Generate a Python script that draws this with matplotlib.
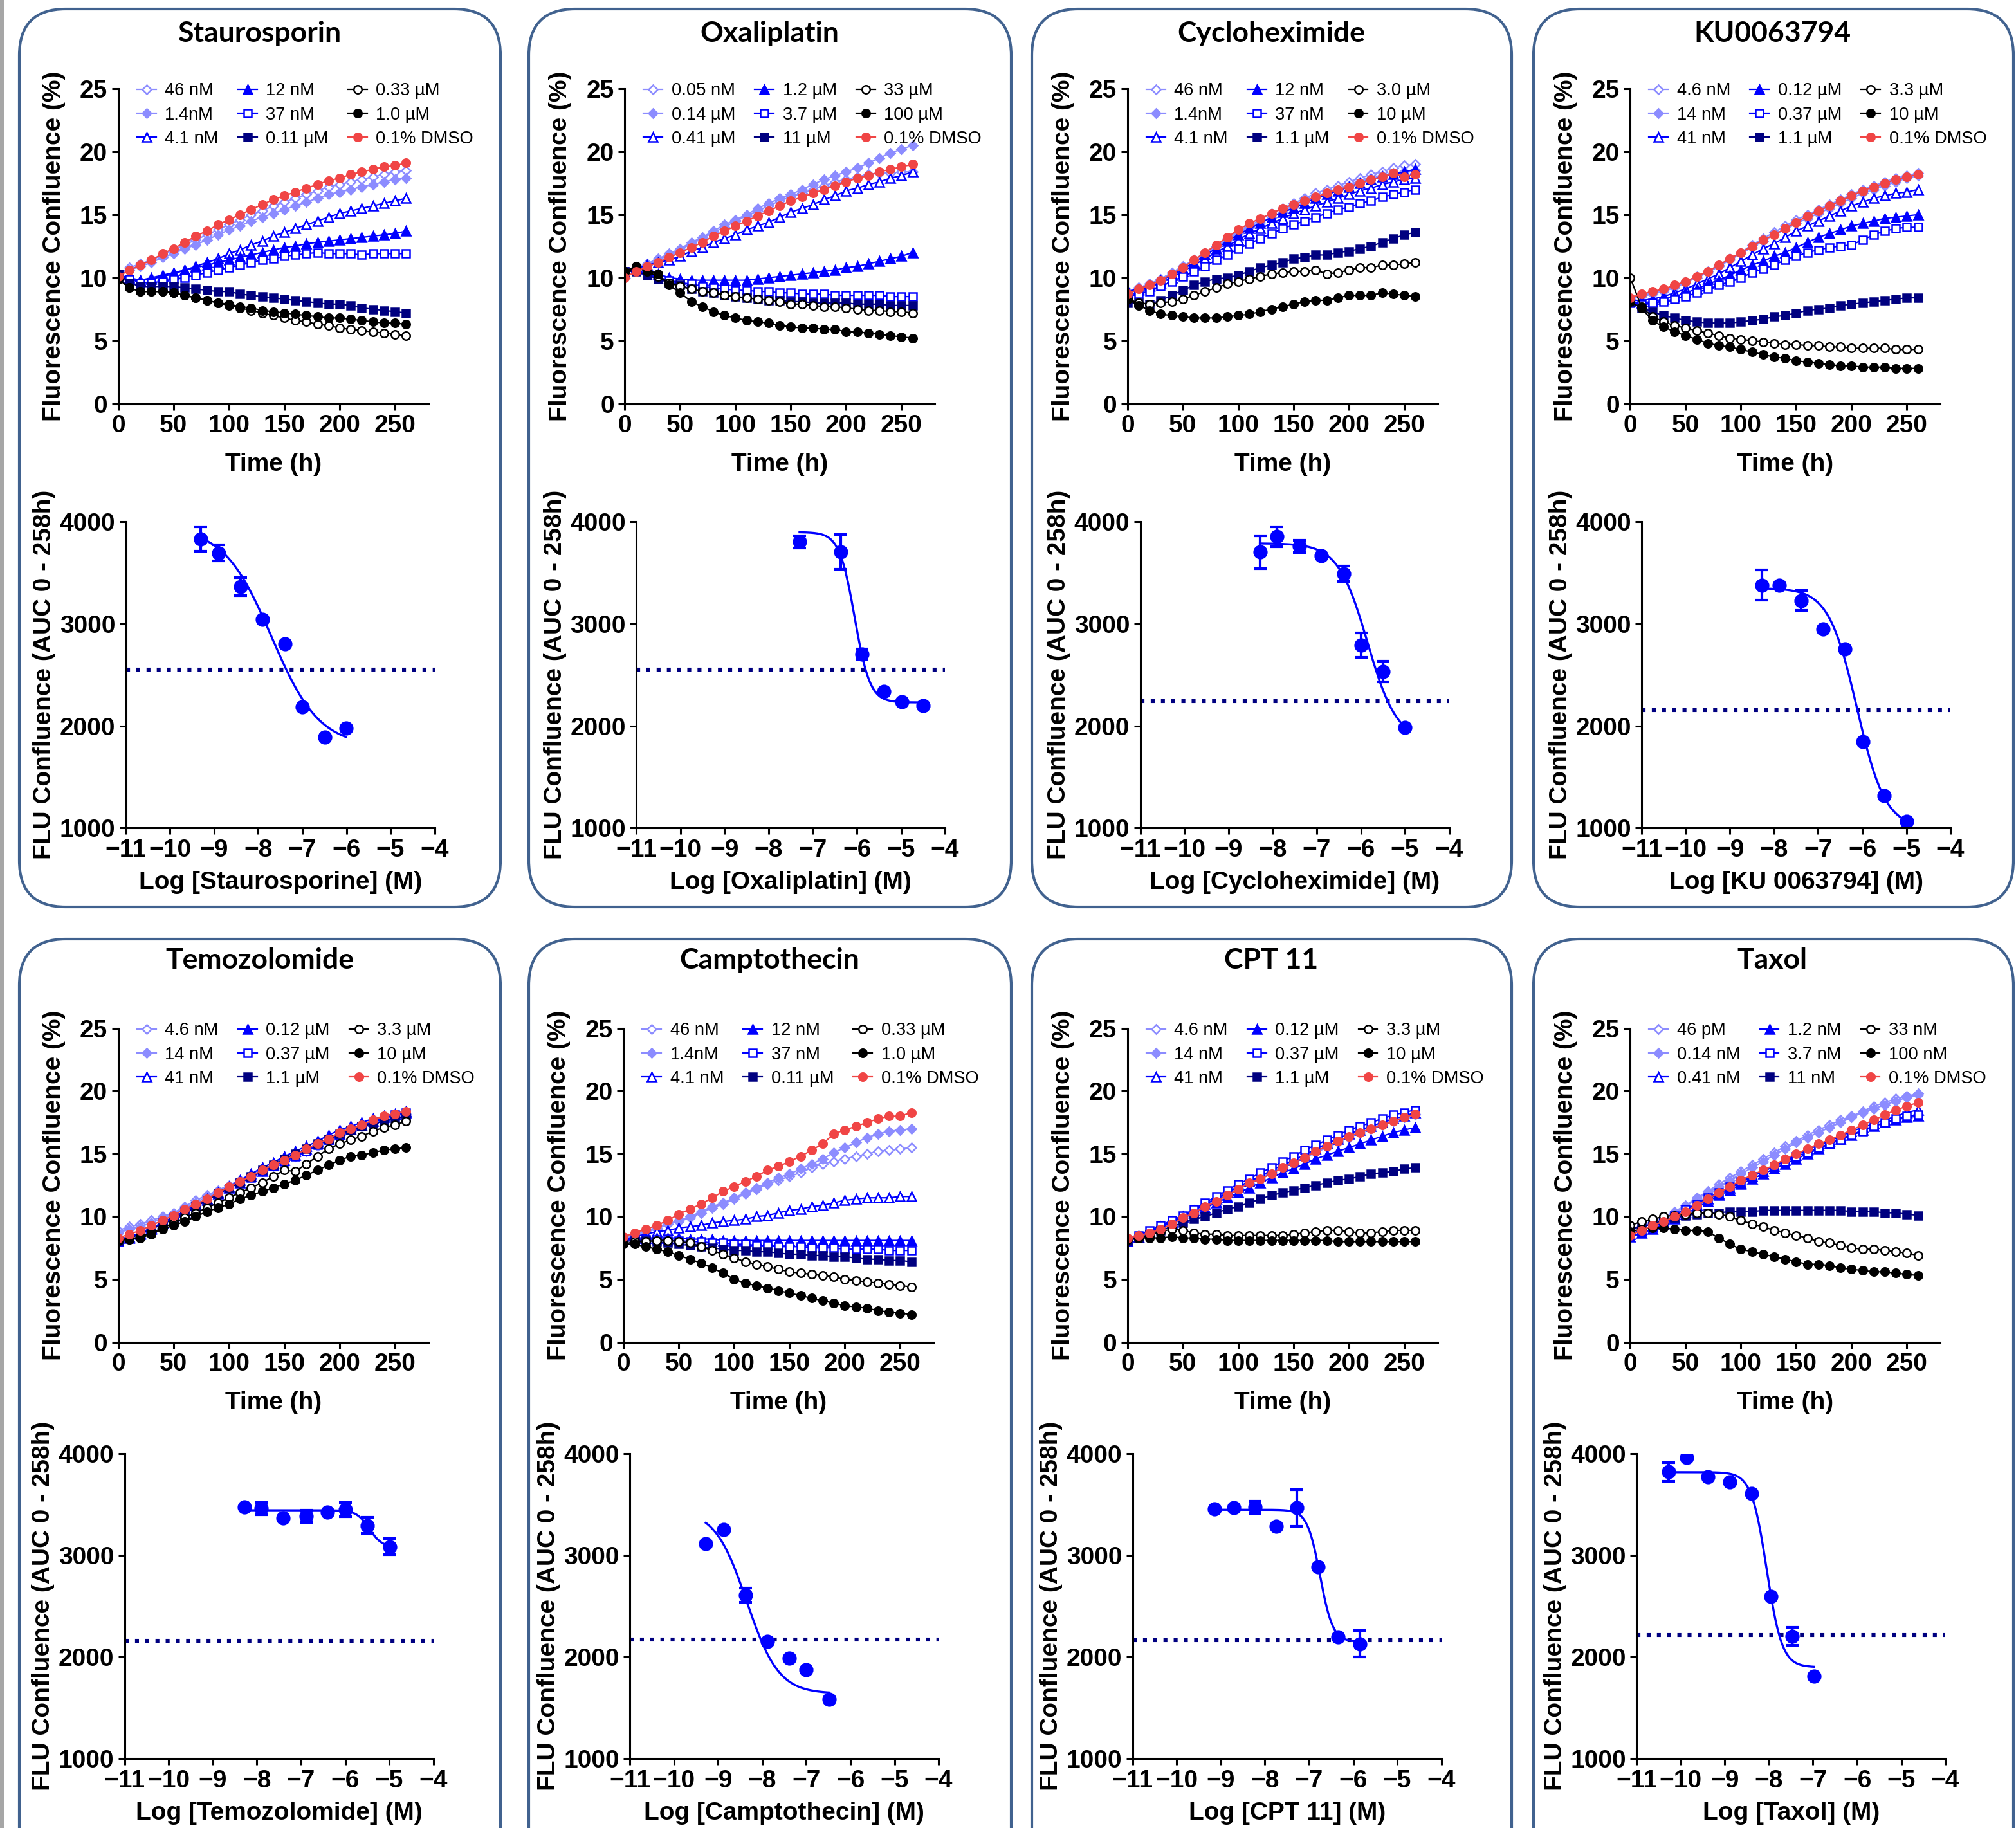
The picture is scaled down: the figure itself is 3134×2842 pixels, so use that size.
import numpy as np
import matplotlib
matplotlib.use("Agg")
import matplotlib.pyplot as plt
from matplotlib.patches import FancyBboxPatch, Rectangle

plt.rcParams['font.family'] = ['Liberation Sans', 'DejaVu Sans']
plt.rcParams['font.weight'] = 'bold'
plt.rcParams['axes.labelweight'] = 'bold'

# ---------------- data ----------------
time_h = list(range(0, 261, 10))

lab_a = ['46 nM', '1.4nM', '4.1 nM', '12 nM', '37 nM', '0.11 \u00b5M', '0.33 \u00b5M', '1.0 \u00b5M', '0.1% DMSO']
lab_oxa = ['0.05 nM', '0.14 \u00b5M', '0.41 \u00b5M', '1.2 \u00b5M', '3.7 \u00b5M', '11 \u00b5M', '33 \u00b5M', '100 \u00b5M', '0.1% DMSO']
lab_chx = ['46 nM', '1.4nM', '4.1 nM', '12 nM', '37 nM', '1.1 \u00b5M', '3.0 \u00b5M', '10 \u00b5M', '0.1% DMSO']
lab_b = ['4.6 nM', '14 nM', '41 nM', '0.12 \u00b5M', '0.37 \u00b5M', '1.1 \u00b5M', '3.3 \u00b5M', '10 \u00b5M', '0.1% DMSO']
lab_tax = ['46 pM', '0.14 nM', '0.41 nM', '1.2 nM', '3.7 nM', '11 nM', '33 nM', '100 nM', '0.1% DMSO']

# Staurosporin time course
stau_ts = [
    [10.3,10.8,11.1,11.4,11.8,12.2,12.6,13.0,13.4,13.8,14.2,14.6,15.0,15.3,15.7,16.0,16.3,16.6,16.9,17.2,17.4,17.6,17.8,18.0,18.2,18.4,18.5],
    [10.2,10.6,10.9,11.2,11.6,11.9,12.3,12.6,13.0,13.4,13.8,14.1,14.5,14.8,15.1,15.4,15.7,16.0,16.3,16.6,16.8,17.0,17.2,17.4,17.6,17.8,17.9],
    [10.1,9.9,9.8,10.0,10.2,10.4,10.6,10.9,11.2,11.5,11.9,12.2,12.6,12.9,13.3,13.6,13.9,14.2,14.5,14.8,15.1,15.3,15.5,15.7,15.9,16.1,16.3],
    [10.2,10.0,9.8,9.9,10.1,10.3,10.6,10.8,11.0,11.2,11.4,11.6,11.8,12.0,12.2,12.4,12.5,12.7,12.8,12.9,13.0,13.1,13.2,13.3,13.4,13.5,13.7],
    [10.3,9.9,9.6,9.6,9.7,9.9,10.0,10.2,10.4,10.6,10.8,11.0,11.2,11.4,11.5,11.7,11.8,11.9,12.0,11.9,11.9,11.9,11.8,11.9,11.9,11.9,11.9],
    [10.3,9.6,9.3,9.3,9.3,9.3,9.2,9.1,9.0,8.9,8.9,8.7,8.6,8.5,8.4,8.3,8.2,8.1,8.0,7.9,7.9,7.8,7.6,7.5,7.4,7.3,7.2],
    [9.9,9.2,8.9,8.9,8.9,8.8,8.6,8.4,8.2,8.0,7.8,7.6,7.4,7.2,7.0,6.8,6.6,6.5,6.3,6.2,6.0,5.9,5.8,5.7,5.6,5.5,5.4],
    [9.9,9.2,8.9,8.9,8.9,8.8,8.6,8.4,8.2,8.0,7.9,7.7,7.6,7.4,7.3,7.2,7.1,7.0,6.9,6.8,6.8,6.7,6.6,6.5,6.4,6.4,6.3],
    [10.1,10.6,11.0,11.4,11.9,12.3,12.8,13.3,13.7,14.2,14.6,15.0,15.4,15.8,16.2,16.5,16.8,17.1,17.4,17.7,17.9,18.2,18.4,18.6,18.8,18.9,19.1],
]
# Oxaliplatin time course
oxa_ts = [
    [10.3,10.7,11.0,11.4,11.8,12.2,12.7,13.1,13.6,14.0,14.5,14.9,15.3,15.7,16.1,16.4,16.7,17.0,17.3,17.6,17.8,18.0,18.2,18.3,18.3,18.4,18.4],
    [10.4,10.8,11.1,11.5,11.9,12.3,12.8,13.2,13.7,14.2,14.6,15.0,15.5,15.9,16.3,16.6,17.0,17.4,17.8,18.1,18.4,18.7,19.1,19.5,19.9,20.2,20.5],
    [10.4,10.7,11.0,11.2,11.4,11.7,12.1,12.4,12.8,13.1,13.4,13.8,14.1,14.4,14.8,15.2,15.5,15.8,16.2,16.5,16.9,17.1,17.4,17.6,17.9,18.1,18.4],
    [10.5,10.8,10.7,10.3,10.0,9.9,9.8,9.8,9.8,9.8,9.8,9.8,9.9,10.0,10.1,10.2,10.3,10.4,10.5,10.6,10.8,10.9,11.1,11.3,11.5,11.7,12.0],
    [10.5,10.6,10.3,10.0,9.8,9.6,9.5,9.3,9.2,9.1,9.0,9.0,8.9,8.9,8.8,8.8,8.7,8.7,8.7,8.6,8.6,8.6,8.6,8.6,8.5,8.5,8.5],
    [10.5,10.5,10.2,9.9,9.6,9.4,9.1,8.9,8.8,8.6,8.5,8.4,8.3,8.2,8.2,8.1,8.1,8.0,8.0,8.0,8.0,7.9,7.9,7.9,7.8,7.8,7.8],
    [10.4,10.8,10.5,10.1,9.6,9.3,9.1,8.9,8.8,8.6,8.5,8.4,8.3,8.2,8.1,7.9,7.9,7.8,7.7,7.7,7.6,7.5,7.4,7.4,7.3,7.3,7.2],
    [10.5,10.9,10.6,10.3,9.4,8.8,8.1,7.7,7.3,7.0,6.8,6.6,6.5,6.4,6.2,6.1,6.0,6.0,5.9,5.9,5.7,5.7,5.6,5.5,5.4,5.3,5.2],
    [10.0,10.5,10.9,11.2,11.6,12.0,12.4,12.8,13.3,13.7,14.1,14.5,14.9,15.3,15.7,16.1,16.4,16.7,17.0,17.3,17.6,17.9,18.1,18.4,18.6,18.8,19.0],
]
# Cycloheximide time course
chx_ts = [
    [8.9,9.2,9.5,9.9,10.4,10.9,11.4,12.0,12.5,13.1,13.6,14.1,14.6,15.1,15.5,15.9,16.3,16.7,17.0,17.3,17.6,17.9,18.2,18.4,18.7,18.9,19.0],
    [8.9,9.2,9.5,9.9,10.4,10.9,11.4,11.9,12.5,13.0,13.5,14.0,14.4,14.8,15.2,15.6,16.0,16.4,16.7,17.0,17.3,17.6,17.9,18.1,18.3,18.4,18.5],
    [8.8,9.0,9.3,9.6,10.0,10.5,11.0,11.5,12.0,12.5,13.0,13.5,13.9,14.3,14.7,15.1,15.4,15.7,16.0,16.3,16.6,16.9,17.1,17.4,17.6,17.8,17.9],
    [8.9,9.1,9.4,9.8,10.2,10.7,11.2,11.8,12.3,12.9,13.4,13.9,14.3,14.8,15.2,15.5,15.9,16.3,16.6,16.9,17.2,17.5,17.8,18.0,18.2,18.4,18.6],
    [8.5,8.7,8.9,9.3,9.7,10.1,10.5,10.9,11.4,11.8,12.3,12.7,13.1,13.5,13.9,14.2,14.5,14.8,15.1,15.4,15.6,15.9,16.1,16.4,16.6,16.8,17.0],
    [8.0,8.0,7.9,8.2,8.6,9.0,9.4,9.7,9.9,10.0,10.2,10.5,10.8,11.0,11.2,11.5,11.6,11.8,11.8,12.0,12.1,12.3,12.5,12.8,13.1,13.4,13.6],
    [8.3,8.0,7.9,8.0,8.1,8.3,8.6,8.9,9.2,9.5,9.7,9.9,10.1,10.3,10.4,10.5,10.5,10.6,10.3,10.4,10.6,10.8,10.8,11.0,11.0,11.1,11.2],
    [8.3,7.8,7.4,7.1,7.0,6.9,6.8,6.8,6.8,6.9,7.0,7.1,7.3,7.5,7.7,7.9,8.1,8.2,8.2,8.4,8.6,8.6,8.6,8.8,8.7,8.6,8.5],
    [8.7,9.1,9.4,9.8,10.3,10.8,11.4,12.0,12.6,13.2,13.8,14.3,14.7,15.1,15.5,15.8,16.1,16.4,16.7,17.0,17.2,17.5,17.8,18.0,18.3,18.0,18.2],
]
# KU0063794 time course
ku_ts = [
    [8.4,8.6,8.8,9.0,9.3,9.7,10.1,10.5,11.0,11.5,12.0,12.6,13.1,13.6,14.1,14.6,15.0,15.4,15.8,16.2,16.6,17.0,17.3,17.6,17.9,18.1,18.3],
    [8.3,8.5,8.7,8.9,9.2,9.6,10.0,10.4,10.9,11.4,11.9,12.4,12.9,13.4,13.8,14.3,14.7,15.1,15.5,15.9,16.3,16.7,17.0,17.3,17.6,17.9,18.1],
    [8.2,8.2,8.3,8.5,8.8,9.1,9.5,9.9,10.3,10.8,11.3,11.8,12.3,12.7,13.2,13.7,14.1,14.5,14.9,15.3,15.7,16.0,16.3,16.5,16.7,16.8,17.0],
    [8.1,8.0,8.1,8.3,8.5,8.8,9.1,9.5,9.8,10.2,10.6,11.0,11.3,11.7,12.0,12.4,12.8,13.2,13.5,13.8,14.1,14.3,14.5,14.7,14.8,14.9,15.0],
    [8.0,7.9,8.0,8.1,8.3,8.5,8.8,9.1,9.4,9.7,10.0,10.4,10.7,11.0,11.4,11.7,12.0,12.2,12.4,12.5,12.6,13.0,13.4,13.7,13.9,14.0,14.0],
    [8.1,7.6,7.3,7.0,6.8,6.6,6.5,6.4,6.4,6.4,6.5,6.6,6.7,6.9,7.0,7.2,7.4,7.5,7.6,7.8,7.9,8.0,8.1,8.2,8.3,8.4,8.4],
    [10.0,7.7,6.9,6.5,6.2,6.0,5.8,5.6,5.4,5.2,5.1,5.0,4.9,4.8,4.7,4.7,4.6,4.6,4.5,4.5,4.4,4.4,4.4,4.4,4.3,4.3,4.3],
    [8.1,7.6,6.6,6.1,5.7,5.4,5.1,4.8,4.6,4.5,4.3,4.1,3.9,3.7,3.6,3.4,3.3,3.2,3.1,3.0,3.0,2.9,2.9,2.9,2.8,2.8,2.8],
    [8.4,8.7,8.9,9.1,9.4,9.7,10.1,10.5,11.0,11.5,12.0,12.5,13.0,13.4,13.9,14.4,14.9,15.3,15.7,16.1,16.5,16.9,17.2,17.5,17.8,18.0,18.2],
]
# Temozolomide time course
tmz_ts = [
    [8.9,9.2,9.4,9.7,10.0,10.3,10.8,11.3,11.7,12.1,12.5,12.9,13.3,13.7,14.1,14.5,14.9,15.3,15.7,16.1,16.5,16.9,17.2,17.5,17.8,18.0,18.2],
    [8.7,9.0,9.2,9.5,9.9,10.2,10.7,11.1,11.6,12.0,12.4,12.8,13.2,13.6,14.0,14.4,14.8,15.2,15.6,16.1,16.5,16.8,17.2,17.5,17.8,18.0,18.2],
    [8.2,8.4,8.7,9.1,9.5,10.0,10.4,10.9,11.3,11.8,12.3,12.7,13.2,13.6,14.1,14.5,14.9,15.4,15.8,16.2,16.6,17.0,17.3,17.6,17.9,18.1,18.3],
    [8.0,8.3,8.6,9.0,9.5,9.9,10.4,10.9,11.4,11.9,12.4,12.9,13.4,13.9,14.3,14.8,15.2,15.6,16.0,16.5,16.9,17.2,17.5,17.8,18.0,18.2,18.4],
    [8.1,8.4,8.7,9.1,9.5,9.9,10.4,10.8,11.3,11.8,12.3,12.7,13.1,13.6,14.0,14.4,14.8,15.2,15.7,16.1,16.5,16.9,17.2,17.5,17.8,18.1,18.3],
    [8.1,8.3,8.6,9.0,9.4,9.8,10.3,10.8,11.3,11.8,12.3,12.7,13.2,13.7,14.1,14.6,15.0,15.4,15.8,16.2,16.6,16.9,17.2,17.4,17.6,17.8,18.0],
    [8.1,8.2,8.4,8.7,9.1,9.5,9.9,10.3,10.7,11.1,11.5,11.9,12.3,12.7,13.2,13.7,13.6,14.2,14.8,15.4,15.8,16.1,16.4,16.8,17.1,17.3,17.6],
    [8.1,8.2,8.3,8.6,9.0,9.3,9.6,10.0,10.4,10.7,11.0,11.4,11.7,12.0,12.3,12.6,12.9,13.3,13.7,14.1,14.5,14.8,14.9,15.1,15.3,15.4,15.5],
    [8.3,8.6,8.9,9.3,9.7,10.1,10.6,11.0,11.4,11.9,12.4,12.8,13.2,13.7,14.1,14.5,14.9,15.4,15.8,16.2,16.7,17.0,17.3,17.7,18.0,18.2,18.4],
]
# Camptothecin time course
cpt_ts = [
    [8.3,8.6,8.8,9.0,9.4,9.6,9.9,10.3,10.7,11.0,11.4,11.8,12.2,12.6,12.9,13.2,13.5,13.9,14.2,14.4,14.6,14.8,15.0,15.2,15.3,15.4,15.5],
    [8.3,8.6,8.8,9.1,9.4,9.7,10.0,10.4,10.8,11.1,11.5,11.9,12.3,12.7,13.1,13.4,13.8,14.2,14.6,15.1,15.5,15.9,16.3,16.6,16.8,16.9,17.0],
    [8.2,8.4,8.6,8.8,8.9,9.1,9.2,9.3,9.5,9.6,9.7,9.8,10.0,10.1,10.3,10.5,10.6,10.8,10.9,11.1,11.3,11.4,11.5,11.5,11.5,11.6,11.6],
    [8.2,8.3,8.3,8.3,8.3,8.3,8.2,8.2,8.2,8.1,8.1,8.1,8.1,8.1,8.1,8.1,8.1,8.1,8.1,8.1,8.1,8.1,8.1,8.1,8.1,8.1,8.1],
    [8.1,8.2,8.2,8.2,8.1,8.1,8.0,8.0,7.9,7.9,7.8,7.8,7.7,7.7,7.6,7.6,7.6,7.5,7.5,7.5,7.4,7.4,7.4,7.4,7.3,7.3,7.3],
    [8.0,8.1,8.1,8.0,7.9,7.8,7.7,7.6,7.5,7.4,7.3,7.3,7.2,7.2,7.1,7.0,7.0,6.9,6.9,6.8,6.8,6.7,6.6,6.6,6.5,6.5,6.4],
    [7.8,8.0,8.0,8.1,8.1,8.0,7.9,7.6,7.3,7.0,6.7,6.4,6.2,6.0,5.8,5.6,5.5,5.4,5.3,5.2,5.0,4.9,4.8,4.7,4.6,4.5,4.4],
    [7.8,7.8,7.6,7.4,7.2,6.9,6.6,6.3,5.9,5.5,5.0,4.7,4.5,4.3,4.1,3.9,3.7,3.5,3.3,3.1,2.9,2.8,2.7,2.5,2.4,2.3,2.2],
    [8.4,8.7,9.0,9.3,9.7,10.2,10.6,11.0,11.5,12.0,12.4,12.8,13.2,13.7,14.0,14.4,14.8,15.3,15.8,16.6,16.9,17.2,17.5,17.8,18.0,18.0,18.3],
]
# CPT 11 time course
irino_ts = [
    [8.2,8.5,8.8,9.2,9.6,10.0,10.4,10.9,11.3,11.8,12.3,12.7,13.1,13.5,13.9,14.3,14.7,15.1,15.5,15.9,16.3,16.7,17.0,17.3,17.6,17.9,18.1],
    [8.2,8.5,8.8,9.1,9.5,9.9,10.4,10.8,11.3,11.8,12.2,12.6,13.0,13.5,13.9,14.3,14.7,15.1,15.6,16.0,16.4,16.7,17.0,17.3,17.6,17.9,18.2],
    [8.0,8.4,8.8,9.2,9.6,10.0,10.5,11.0,11.4,11.9,12.4,12.8,13.2,13.7,14.1,14.5,14.9,15.4,15.8,16.2,16.6,16.9,17.2,17.5,17.8,18.0,18.3],
    [8.0,8.4,8.8,9.2,9.5,9.9,10.3,10.7,11.1,11.5,11.9,12.3,12.7,13.1,13.5,13.8,14.2,14.6,14.9,15.2,15.5,15.8,16.1,16.4,16.7,16.9,17.1],
    [8.1,8.5,8.9,9.3,9.7,10.1,10.6,11.1,11.6,12.1,12.6,13.0,13.5,13.9,14.4,14.8,15.3,15.7,16.1,16.5,16.9,17.2,17.5,17.8,18.1,18.3,18.5],
    [8.1,8.3,8.6,8.9,9.2,9.5,9.8,10.0,10.3,10.6,10.8,11.1,11.4,11.7,11.9,12.1,12.3,12.5,12.7,12.9,13.0,13.2,13.4,13.5,13.6,13.8,13.9],
    [8.2,8.3,8.5,8.8,9.0,8.9,8.7,8.6,8.6,8.5,8.5,8.5,8.5,8.5,8.5,8.6,8.7,8.8,8.9,8.9,8.8,8.7,8.7,8.8,8.9,8.9,8.9],
    [8.2,8.3,8.3,8.3,8.4,8.3,8.3,8.2,8.2,8.1,8.1,8.1,8.1,8.1,8.1,8.1,8.1,8.1,8.1,8.0,8.0,8.0,8.0,8.0,8.0,8.0,8.0],
    [8.3,8.5,8.7,9.0,9.4,9.9,10.3,10.8,11.2,11.7,12.2,12.7,13.0,13.4,13.9,14.3,14.7,15.2,15.6,16.0,16.4,16.7,17.0,17.3,17.6,17.9,18.2],
]
# Taxol time course
tax_ts = [
    [8.9,9.2,9.5,9.9,10.4,10.9,11.5,12.0,12.6,13.1,13.6,14.1,14.6,15.1,15.6,16.0,16.5,16.9,17.3,17.7,18.0,18.4,18.8,19.1,19.4,19.6,19.8],
    [8.9,9.2,9.5,9.9,10.3,10.8,11.4,11.9,12.4,12.9,13.4,13.9,14.4,14.9,15.4,15.9,16.3,16.7,17.1,17.5,17.9,18.3,18.6,18.9,19.2,19.5,19.7],
    [8.6,8.9,9.2,9.5,9.9,10.4,10.9,11.4,11.8,12.3,12.7,13.2,13.6,14.0,14.5,14.9,15.3,15.7,16.0,16.4,16.8,17.1,17.4,17.7,18.0,18.3,18.5],
    [8.4,8.7,9.0,9.4,9.8,10.2,10.7,11.2,11.7,12.1,12.6,13.0,13.4,13.8,14.2,14.6,15.0,15.4,15.8,16.2,16.5,16.9,17.2,17.5,17.7,17.9,18.0],
    [8.6,8.9,9.2,9.6,10.1,10.6,11.0,11.5,11.9,12.4,12.8,13.2,13.6,14.0,14.4,14.8,15.1,15.5,15.8,16.1,16.5,16.8,17.2,17.5,17.8,18.0,18.1],
    [9.0,9.2,9.4,9.7,9.9,10.1,10.2,10.3,10.3,10.4,10.4,10.4,10.5,10.5,10.5,10.5,10.5,10.5,10.5,10.5,10.4,10.4,10.4,10.3,10.3,10.2,10.1],
    [9.3,9.6,9.8,10.0,10.1,10.2,10.3,10.3,10.2,10.0,9.7,9.4,9.2,8.9,8.7,8.5,8.3,8.0,7.9,7.7,7.5,7.4,7.4,7.3,7.2,7.1,6.9],
    [8.8,9.0,9.1,9.1,9.0,8.9,8.9,8.8,8.3,7.8,7.4,7.2,7.0,6.8,6.6,6.4,6.2,6.2,6.1,5.9,5.8,5.7,5.6,5.6,5.5,5.4,5.3],
    [8.5,8.9,9.3,9.6,10.0,10.4,10.9,11.4,11.9,12.4,12.9,13.3,13.7,14.1,14.6,15.0,15.4,15.8,16.1,16.5,16.9,17.3,17.7,18.1,18.5,18.8,19.1],
]

# dose response: log concentration, AUC, SEM, fit (top, bottom, logEC50, hill), dotted level
stau_logc = [-9.30, -8.90, -8.40, -7.90, -7.40, -7.00, -6.49, -6.01]
stau_auc = [3834, 3695, 3366, 3041, 2805, 2189, 1892, 1980]
stau_err = [120, 80, 90, 0, 0, 0, 0, 0]
stau_fit = [3950, 1800, -7.70, 0.8]
stau_cut = 2555

oxa_logc = [-7.30, -6.37, -5.89, -5.39, -4.98, -4.50]
oxa_auc = [3806, 3707, 2704, 2339, 2238, 2197]
oxa_err = [60, 170, 50, 0, 0, 0]
oxa_fit = [3900, 2230, -6.05, 2.5]
oxa_cut = 2555

chx_logc = [-8.29, -7.91, -7.40, -6.90, -6.38, -5.99, -5.49, -5.00]
chx_auc = [3704, 3855, 3762, 3669, 3492, 2790, 2535, 1984]
chx_err = [160, 100, 60, 0, 75, 120, 100, 0]
chx_fit = [3790, 1850, -5.85, 1.3]
chx_cut = 2245

ku_logc = [-8.28, -7.88, -7.39, -6.89, -6.39, -5.99, -5.50, -4.99]
ku_auc = [3381, 3381, 3230, 2949, 2757, 1845, 1313, 1064]
ku_err = [150, 0, 100, 0, 0, 0, 0, 0]
ku_fit = [3350, 1000, -6.12, 1.35]
ku_cut = 2155

tmz_logc = [-8.29, -7.90, -7.41, -6.89, -6.40, -6.00, -5.49, -4.98]
tmz_auc = [3476, 3462, 3372, 3386, 3428, 3451, 3295, 3086]
tmz_err = [0, 60, 0, 60, 0, 70, 80, 80]
tmz_fit = [3445, 3080, -5.45, 3.0]
tmz_cut = 2160

cpt_logc = [-9.28, -8.87, -8.38, -7.88, -7.38, -7.00, -6.48]
cpt_auc = [3114, 3253, 2608, 2152, 1987, 1873, 1582]
cpt_err = [0, 0, 70, 0, 0, 0, 0]
cpt_fit = [3450, 1640, -8.35, 1.2]
cpt_cut = 2175

irino_logc = [-9.15, -8.70, -8.22, -7.74, -7.27, -6.80, -6.35, -5.85]
irino_auc = [3460, 3470, 3475, 3290, 3470, 2890, 2200, 2130]
irino_err = [0, 0, 60, 0, 180, 0, 0, 130]
irino_fit = [3450, 2150, -6.75, 3.0]
irino_cut = 2165

tax_logc = [-10.27, -9.86, -9.39, -8.89, -8.39, -7.95, -7.48, -6.98]
tax_auc = [3823, 3962, 3772, 3722, 3608, 2595, 2203, 1810]
tax_err = [90, 0, 0, 0, 0, 0, 90, 0]
tax_fit = [3820, 1900, -8.05, 2.5]
tax_cut = 2215

panels = [
    ('Staurosporin', 'Log [Staurosporine] (M)', lab_a, stau_ts, stau_logc, stau_auc, stau_err, stau_fit, stau_cut),
    ('Oxaliplatin', 'Log [Oxaliplatin] (M)', lab_oxa, oxa_ts, oxa_logc, oxa_auc, oxa_err, oxa_fit, oxa_cut),
    ('Cycloheximide', 'Log [Cycloheximide] (M)', lab_chx, chx_ts, chx_logc, chx_auc, chx_err, chx_fit, chx_cut),
    ('KU0063794', 'Log [KU 0063794] (M)', lab_b, ku_ts, ku_logc, ku_auc, ku_err, ku_fit, ku_cut),
    ('Temozolomide', 'Log [Temozolomide] (M)', lab_b, tmz_ts, tmz_logc, tmz_auc, tmz_err, tmz_fit, tmz_cut),
    ('Camptothecin', 'Log [Camptothecin] (M)', lab_a, cpt_ts, cpt_logc, cpt_auc, cpt_err, cpt_fit, cpt_cut),
    ('CPT 11', 'Log [CPT 11] (M)', lab_b, irino_ts, irino_logc, irino_auc, irino_err, irino_fit, irino_cut),
    ('Taxol', 'Log [Taxol] (M)', lab_tax, tax_ts, tax_logc, tax_auc, tax_err, tax_fit, tax_cut),
]

# ---------------- styles / layout ----------------
LIGHT, BLUE, NAVY, RED = '#8c8cff', '#0000ff', '#000080', '#f04545'
styles = [(LIGHT, 'D', False), (LIGHT, 'D', True), (BLUE, '^', False),
          (BLUE, '^', True), (BLUE, 's', False), (NAVY, 's', True),
          ('black', 'o', False), ('black', 'o', True), (RED, 'o', True)]
msize = {'D': 3.8, '^': 4.8, 's': 4.1, 'o': 4.5}

W, H = 1568.0, 1422.0  # layout grid (half of output pixels)
box_x = [(15, 389), (411, 786), (802, 1175), (1192, 1565)]
box_y = [(8, 706), (731, 1480)]
title_y = [26, 747]
top_left = [[92, 486, 877, 1268], [92, 485, 877, 1268]]
top_y = [(69, 314), (800, 1044)]
bot_left = [[98, 495, 887, 1277], [97, 490, 881, 1273]]
bot_y = [(406, 644), (1131, 1368)]


def logistic(x, top, bottom, logec50, hill):
    return bottom + (top - bottom) / (1 + 10 ** ((x - logec50) * hill))


def add_ax(left, ytop, ybot, width):
    return fig.add_axes([left / W, 1 - ybot / H, width / W, (ybot - ytop) / H])


def style_ax(ax):
    for s in ['top', 'right']:
        ax.spines[s].set_visible(False)
    for s in ['left', 'bottom']:
        ax.spines[s].set_linewidth(1.1)
    ax.tick_params(direction='out', length=3.5, width=1.1, labelsize=14, pad=2.5)


fig = plt.figure(figsize=(15.67, 14.21), dpi=200)

# thin grey strip on the left edge
fig.add_artist(Rectangle((0, 0), 3 / W, 1, transform=fig.transFigure,
                         facecolor='#a6a6a6', edgecolor='none'))

for i, (name, xlab, labels, ts, logc, auc, err, fit, cut) in enumerate(panels):
    r, c = divmod(i, 4)
    x0, x1 = box_x[c]
    y0, y1 = box_y[r]
    fig.add_artist(FancyBboxPatch((x0 / 100, (H - y1) / 100), (x1 - x0) / 100, (y1 - y0) / 100,
                                  boxstyle='round,pad=0,rounding_size=0.36',
                                  transform=fig.dpi_scale_trans, fill=False,
                                  edgecolor='#41628f', linewidth=1.5))
    fig.text((x0 + x1) / 2 / W, 1 - title_y[r] / H, name, family='Lato',
             weight='bold', fontsize=16, ha='center', va='center')

    # time course
    ax = add_ax(top_left[r][c], top_y[r][0], top_y[r][1], 241)
    for vals, lab, (col, mk, filled) in zip(ts, labels, styles):
        ax.plot(time_h, vals, color=col, lw=0.8, marker=mk, ms=msize[mk],
                mfc=col if filled else 'white', mec=col, mew=0.9, label=lab)
    ax.set_xlim(0, 280)
    ax.set_ylim(0, 25)
    ax.set_xticks([0, 50, 100, 150, 200, 250])
    ax.set_yticks([0, 5, 10, 15, 20, 25])
    style_ax(ax)
    ax.set_xlabel('Time (h)', fontsize=14, labelpad=8.5)
    ax.set_ylabel('Fluorescence Confluence (%)', fontsize=14, labelpad=8)
    ax.legend(loc='upper left', bbox_to_anchor=(0.06, 1.02), ncol=3, frameon=False,
              prop={'family': 'Liberation Sans', 'weight': 'normal', 'size': 9.8},
              borderpad=0, borderaxespad=0, labelspacing=0.42, handlelength=1.1,
              handletextpad=0.5, columnspacing=1.1)

    # dose response
    bx = add_ax(bot_left[r][c], bot_y[r][0], bot_y[r][1], 240)
    bx.axhline(cut, color=NAVY, lw=2.2, linestyle=(0, (1, 1.6)), dash_capstyle='butt')
    xs = np.linspace(min(logc), max(logc), 200)
    bx.plot(xs, logistic(xs, *fit), color=BLUE, lw=1.2)
    bx.errorbar(logc, auc, yerr=[e if e else np.nan for e in err], fmt='o', color=BLUE,
                ms=7, elinewidth=1.5, capsize=3.7, capthick=1.5)
    bx.set_xlim(-11, -4)
    bx.set_ylim(1000, 4000)
    bx.set_xticks(range(-11, -3))
    bx.set_yticks([1000, 2000, 3000, 4000])
    style_ax(bx)
    bx.set_xlabel(xlab, fontsize=14, labelpad=5)
    bx.set_ylabel('FLU Confluence (AUC 0 - 258h)', fontsize=14, labelpad=2)

fig.savefig('out.png', dpi=200)
